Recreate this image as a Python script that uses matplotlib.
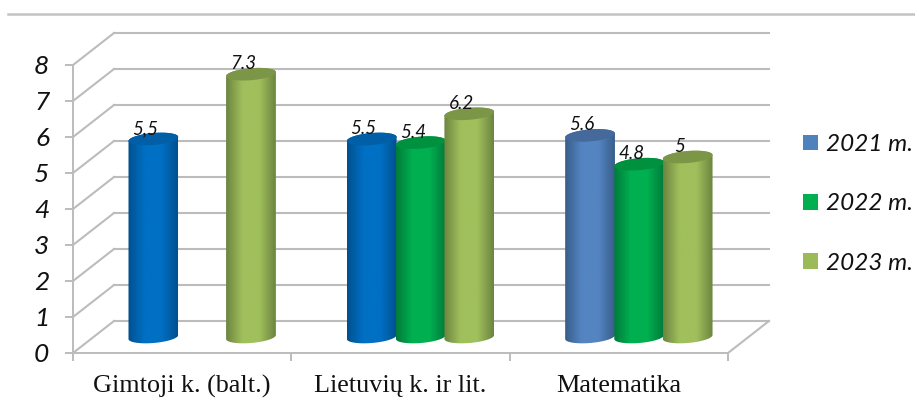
import numpy as np
import matplotlib
matplotlib.use("Agg")
import matplotlib.pyplot as plt
from matplotlib.colors import LinearSegmentedColormap
from matplotlib.patches import PathPatch, Patch
from matplotlib.path import Path
from matplotlib.transforms import ScaledTranslation

categories = ["Gimtoji k. (balt.)", "Lietuvių k. ir lit.", "Matematika"]
years = ["2021 m.", "2022 m.", "2023 m."]
v2021 = [5.5, 5.5, 5.6]
v2022 = [None, 5.4, 4.8]
v2023 = [7.3, 6.2, 5.0]
text2021 = ["5,5", "5.5", "5.6"]
text2022 = [None, "5.4", "4.8"]
text2023 = ["7.3", "6.2", "5"]
yticks = list(range(9))

W, H = 915, 405
fig = plt.figure(figsize=(W / 100, H / 100), dpi=100, facecolor="white")
L, R, T, B = 73, 728, 65, 353
ax = fig.add_axes([L / W, 1 - B / H, (R - L) / W, (B - T) / H])
ax.set_xlim(0, 3)
ax.set_ylim(0, 8)
ax.patch.set_visible(False)
GRID = "#bcbcbc"
UI = "Lato"


def shifted(dx, dy):
    return ax.transData + ScaledTranslation(dx / 100, dy / 100, fig.dpi_scale_trans)


back = shifted(41, 32)
mid = shifted(21, 16)
for v in yticks:
    ax.plot([0, 3], [v, v], color=GRID, lw=1.5, transform=back, clip_on=False, zorder=1)
    px = ax.transData.transform((0, v))
    fig.add_artist(plt.Line2D([px[0] / W, (px[0] + 41) / W], [px[1] / H, (px[1] + 32) / H],
                              color=GRID, lw=1.5, zorder=0.5))
px = ax.transData.transform((3, 0))
fig.add_artist(plt.Line2D([px[0] / W, (px[0] + 41) / W], [px[1] / H, (px[1] + 32) / H],
                          color=GRID, lw=1.5, zorder=0.5))
fig.add_artist(plt.Line2D([8 / W, 1], [1 - 14 / H, 1 - 14 / H], color="#c4c4c4", lw=1.8))

for s in ["top", "right"]:
    ax.spines[s].set_visible(False)
for s in ["left", "bottom"]:
    ax.spines[s].set_color(GRID)
    ax.spines[s].set_linewidth(1.4)
ax.set_yticks(yticks)
ax.set_yticklabels([str(v) for v in yticks], fontsize=19, fontstyle="italic", family=UI, color="#111111")
ax.tick_params(axis="y", length=6, width=1.4, color=GRID, pad=11)
ax.set_xticks([0, 1, 2, 3])
ax.set_xticklabels([])
ax.tick_params(axis="x", length=6, width=1.4, color=GRID)
ax.set_xticks([0.5, 1.5, 2.5], minor=True)
ax.set_xticklabels(categories, minor=True, fontsize=18.8, family="Liberation Serif", color="#111111")
ax.tick_params(axis="x", which="minor", length=0, pad=16)

BW = 0.228
RX, RY, TILT = BW / 2, 6.0 / 36, 2.0 / 36
grad = np.linspace(0, 1, 256)[None, :]


def ring(xc, y, t0, t1, n=40):
    t = np.linspace(t0, t1, n)
    return np.c_[xc + RX * np.cos(t), y + RY * np.sin(t) + TILT * np.cos(t)]


def cylinder(xc, val, dark, base, top, z):
    low = ring(xc, 0, np.pi, 2 * np.pi)
    high = ring(xc, val, 0, np.pi)
    poly = np.vstack([low, high, low[:1]])
    path = Path(poly, closed=True)
    cm = LinearSegmentedColormap.from_list("c", [dark, base, base, dark])
    im = ax.imshow(grad, cmap=cm, aspect="auto", zorder=z, transform=mid,
                   extent=[xc - RX, xc + RX, -0.5, val + 0.5], interpolation="bilinear")
    im.set_clip_path(PathPatch(path, transform=mid))
    cap = Path(ring(xc, val, 0, 2 * np.pi, 60), closed=True)
    ax.add_patch(PathPatch(cap, facecolor=top, edgecolor="none", transform=mid, zorder=z + 0.1))


BLUE = ("#00508f", "#0070c4", "#005fa6")
BLUE2 = ("#385d8a", "#5485c2", "#44699a")
GREEN = ("#007a3a", "#00b050", "#00913f")
OLIVE = ("#6c8440", "#a0c05c", "#7c9647")
offsets = [-0.225, 0.0, 0.222]
series = [(v2021, text2021), (v2022, text2022), (v2023, text2023)]
z = 3
for c in range(len(categories)):
    for s, (vals, texts) in enumerate(series):
        v = vals[c]
        if v is None:
            continue
        col = [BLUE if c < 2 else BLUE2, GREEN, OLIVE][s]
        xc = c + 0.5 + offsets[s] - 0.003
        cylinder(xc, v, col[0], col[1], col[2], z)
        z += 1
        ax.annotate(texts[c], (xc, v), xycoords=mid, xytext=(-8, 2), textcoords="offset pixels",
                    ha="center", va="bottom", fontsize=13.5, fontstyle="italic", family=UI,
                    color="#111111", zorder=50, annotation_clip=False)
ax.set_xlim(0, 3)
ax.set_ylim(0, 8)

handles = [Patch(facecolor=c) for c in ["#4f81bd", "#00b050", "#9bbb59"]]
leg = fig.legend(handles, years, loc="center left", bbox_to_anchor=(781 / W, 1 - 204 / H), frameon=False,
                 handlelength=0.62, handleheight=0.62, handletextpad=0.32, labelspacing=1.58,
                 prop={"family": UI, "style": "italic", "size": 17.5})
for t in leg.get_texts():
    t.set_color("#111111")

fig.savefig("out.png", dpi=100)
